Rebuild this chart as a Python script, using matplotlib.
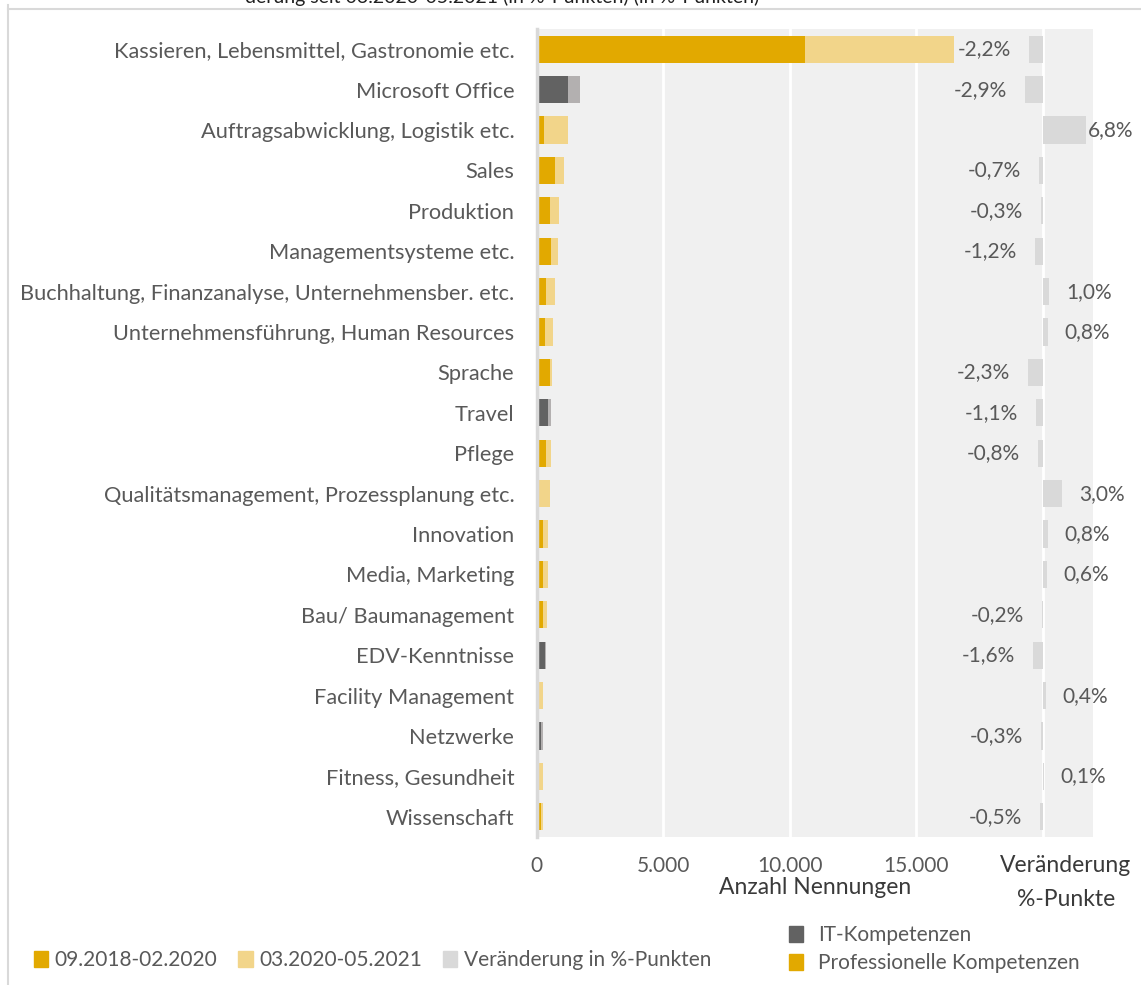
import matplotlib.pyplot as plt
import numpy as np
from matplotlib.patches import Patch
from matplotlib.lines import Line2D

categories = ['Kassieren, Lebensmittel, Gastronomie etc.', 'Microsoft Office',
              'Auftragsabwicklung, Logistik etc.', 'Sales', 'Produktion',
              'Managementsysteme etc.', 'Buchhaltung, Finanzanalyse, Unternehmensber. etc.',
              'Unternehmensführung, Human Resources', 'Sprache', 'Travel', 'Pflege',
              'Qualitätsmanagement, Prozessplanung etc.', 'Innovation', 'Media, Marketing',
              'Bau/ Baumanagement', 'EDV-Kenntnisse', 'Facility Management', 'Netzwerke',
              'Fitness, Gesundheit', 'Wissenschaft']
# IT-Kompetenzen = True, Professionelle Kompetenzen = False
is_it = [False, True, False, False, False, False, False, False, False, True,
         False, False, False, False, False, True, False, True, False, False]
period1 = [10600, 1260, 315, 750, 550, 590, 395, 355, 540, 435,
           395, 118, 240, 240, 250, 355, 118, 160, 118, 160]
period2 = [5900, 470, 945, 350, 320, 240, 340, 315, 80, 155,
           195, 430, 230, 230, 155, 40, 157, 80, 120, 80]
change = [-2.2, -2.9, 6.8, -0.7, -0.3, -1.2, 1.0, 0.8, -2.3, -1.1,
          -0.8, 3.0, 0.8, 0.6, -0.2, -1.6, 0.4, -0.3, 0.1, -0.5]
ticks = [0, 5000, 10000, 15000, 20000]
tick_labels = ['0', '5.000', '10.000', '15.000', '']

gold = '#E2A900'
gold_light = '#F2D58A'
grey_dark = '#626262'
grey_light = '#B3B0B0'
chg_col = '#D9D9D9'
txt = '#595959'

plt.rcParams['font.family'] = ['Lato', 'DejaVu Sans']

fig = plt.figure(figsize=(11.41, 9.85), dpi=100)
ax = fig.add_axes([536.5 / 1141, 1 - 837 / 985, (1092.7 - 536.5) / 1141, (837 - 29) / 985])
ax.set_facecolor('#F0F0F0')

y = np.arange(len(categories))
c1 = [grey_dark if it else gold for it in is_it]
c2 = [grey_light if it else gold_light for it in is_it]
ax.barh(y, period1, height=0.67, color=c1, zorder=3)
ax.barh(y, period2, left=period1, height=0.67, color=c2, zorder=3)

ax.set_xlim(0, 21980)
ax.set_ylim(len(categories) - 0.5, -0.5)
ax.set_yticks(y)
ax.set_yticklabels(categories, fontsize=15.7, color=txt)
ax.set_xticks(ticks)
ax.set_xticklabels(tick_labels, fontsize=15, color=txt)
ax.tick_params(axis='y', length=0, pad=16)
ax.tick_params(axis='x', length=0, pad=14)
ax.grid(axis='x', color='white', linewidth=2, zorder=1)
ax.set_axisbelow(True)
for s in ['top', 'right', 'bottom']:
    ax.spines[s].set_visible(False)
ax.spines['left'].set_color('#D9D9D9')
ax.spines['left'].set_linewidth(2.5)
ax.spines['left'].set_zorder(4)

# Veränderung in %-Punkten on its own scale
ax2 = ax.twiny()
ax2.set_xlim(-79.8, 7.83)
ax2.barh(y, change, height=0.67, color=chg_col, zorder=3)
for yi, v in zip(y, change):
    lab = f'{v:.1f}%'.replace('.', ',')
    if v < 0:
        ax2.annotate(lab, (v, yi), xytext=(-13, 0), textcoords='offset points',
                     ha='right', va='center', fontsize=15, color=txt)
    else:
        off = 1 if v > 5 else 12
        ax2.annotate(lab, (v, yi), xytext=(off, 0), textcoords='offset points',
                     ha='left', va='center', fontsize=15, color=txt,
                     annotation_clip=False)
ax2.set_xticks([])
for s in ax2.spines.values():
    s.set_visible(False)

fig.text(1066 / 1141, 1 - 866 / 985, 'Veränderung', ha='center', va='center',
         fontsize=16.5, color='#3A3A3A')
fig.text(1066 / 1141, 1 - 899 / 985, '%-Punkte', ha='center', va='center',
         fontsize=16.5, color='#3A3A3A')
fig.text(815 / 1141, 1 - 888 / 985, 'Anzahl Nennungen', ha='center', va='center',
         fontsize=16.5, color='#3A3A3A')

# title, cut off at the top edge
fig.text(502 / 1141, 1 - 3 / 985, 'derung seit 03.2020-05.2021 (in %-Punkten) (in %-Punkten)',
         ha='center', va='baseline', fontsize=14, color='#202020')

# chart area border
fig.add_artist(Line2D([8 / 1141, 8 / 1141], [0, 1 - 5 / 985], color='#D9D9D9',
                      linewidth=1.5, transform=fig.transFigure))
fig.add_artist(Line2D([8 / 1141, 1], [1 - 9 / 985, 1 - 9 / 985], color='#D9D9D9',
                      linewidth=1.5, transform=fig.transFigure))

h1 = [Patch(color=gold), Patch(color=gold_light), Patch(color=chg_col)]
fig.legend(h1, ['09.2018-02.2020', '03.2020-05.2021', 'Veränderung in %-Punkten'],
           loc='center left', bbox_to_anchor=(15 / 1141, 1 - 960 / 985), ncol=3,
           frameon=False, handlelength=0.7, handleheight=0.8, handletextpad=0.3,
           columnspacing=1.0, prop={'size': 15}, labelcolor=txt)
h2 = [Patch(color=grey_dark), Patch(color=gold)]
fig.legend(h2, ['IT-Kompetenzen', 'Professionelle Kompetenzen'],
           loc='center left', bbox_to_anchor=(770 / 1141, 1 - 949 / 985), ncol=1,
           frameon=False, handlelength=0.7, handleheight=0.8, handletextpad=0.7,
           labelspacing=0.4, prop={'size': 15}, labelcolor=txt)

fig.savefig('out.png', dpi=100)
